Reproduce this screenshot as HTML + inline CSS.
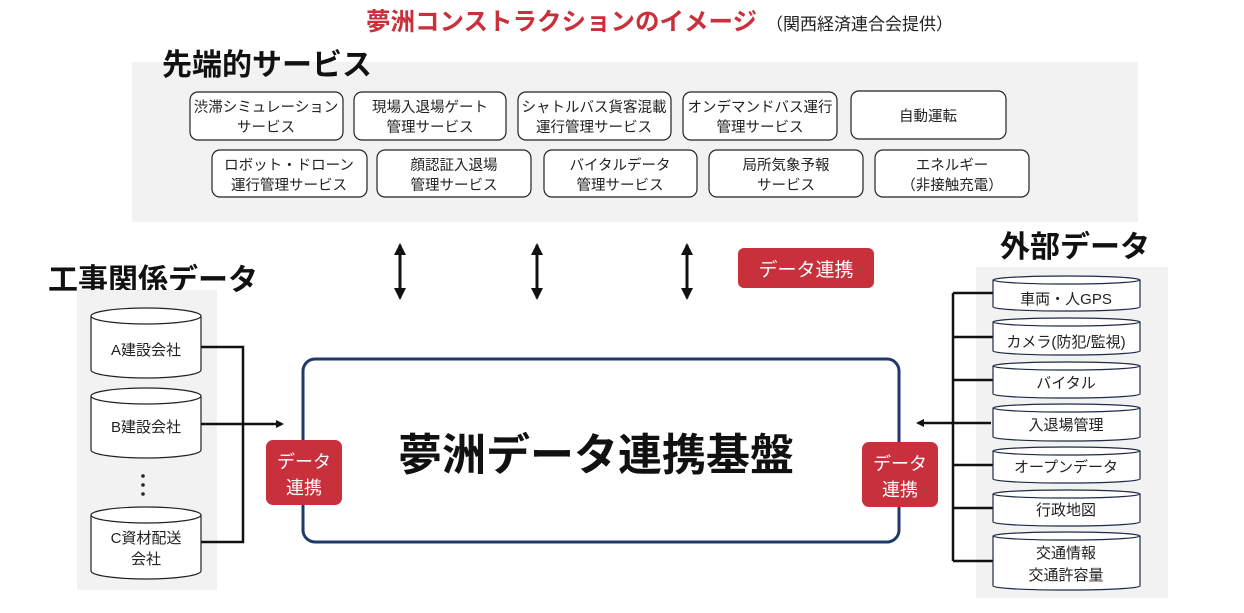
<!DOCTYPE html>
<html><head><meta charset="utf-8"><style>
html,body{margin:0;padding:0;background:#fff;}
svg{display:block;font-family:"Liberation Sans","Noto Sans CJK JP",sans-serif;}
</style></head><body>
<svg width="1244" height="613" viewBox="0 0 1244 613" xmlns="http://www.w3.org/2000/svg">
<defs>
<marker id="ah" markerWidth="8" markerHeight="8" refX="6" refY="4" orient="auto" markerUnits="userSpaceOnUse"><path d="M0,0 L8,4 L0,8 Z" fill="#111"/></marker>
<marker id="ah2" markerWidth="12" markerHeight="12" refX="10" refY="6" orient="auto-start-reverse" markerUnits="userSpaceOnUse"><path d="M0,0 L12,6 L0,12 Z" fill="#111"/></marker>
</defs>
<text x="366" y="30" font-size="24.5" font-weight="bold" fill="#c8303c">夢洲コンストラクションのイメージ</text>
<text x="766" y="30" font-size="17" fill="#222">（関西経済連合会提供）</text>

<rect x="132" y="62" width="1006" height="160" fill="#f2f2f2"/>
<text x="162" y="75" font-size="30" font-weight="bold" fill="#111">先端的サービス</text>
<g fill="#fff" stroke="#222" stroke-width="1.2">
<rect x="190" y="92" width="153" height="48" rx="8"/>
<rect x="354" y="92" width="152" height="48" rx="8"/>
<rect x="518" y="92" width="153" height="48" rx="8"/>
<rect x="683" y="92" width="154" height="48" rx="8"/>
<rect x="851" y="91" width="155" height="48" rx="8"/>
<rect x="212" y="150" width="155" height="47" rx="8"/>
<rect x="377" y="150" width="154" height="47" rx="8"/>
<rect x="544" y="150" width="153" height="47" rx="8"/>
<rect x="709" y="150" width="154" height="47" rx="8"/>
<rect x="875" y="150" width="154" height="47" rx="8"/>
</g>
<g font-size="14.5" fill="#222" text-anchor="middle">
<text x="266" y="112">渋滞シミュレーション</text><text x="266" y="132">サービス</text>
<text x="430" y="112">現場入退場ゲート</text><text x="430" y="132">管理サービス</text>
<text x="594" y="112">シャトルバス貨客混載</text><text x="594" y="132">運行管理サービス</text>
<text x="760" y="112">オンデマンドバス運行</text><text x="760" y="132">管理サービス</text>
<text x="928" y="121">自動運転</text>
<text x="289" y="170">ロボット・ドローン</text><text x="289" y="190">運行管理サービス</text>
<text x="454" y="170">顔認証入退場</text><text x="454" y="190">管理サービス</text>
<text x="620" y="170">バイタルデータ</text><text x="620" y="190">管理サービス</text>
<text x="786" y="170">局所気象予報</text><text x="786" y="190">サービス</text>
<text x="952" y="170">エネルギー</text><text x="952" y="190">（非接触充電）</text>
</g>

<g stroke="#111" stroke-width="3">
<line x1="400" y1="245" x2="400" y2="298" marker-start="url(#ah2)" marker-end="url(#ah2)"/>
<line x1="537" y1="245" x2="537" y2="298" marker-start="url(#ah2)" marker-end="url(#ah2)"/>
<line x1="687" y1="245" x2="687" y2="298" marker-start="url(#ah2)" marker-end="url(#ah2)"/>
</g>
<rect x="738" y="248" width="136" height="40" rx="6" fill="#c8303c"/>
<text x="806" y="276" font-size="19" fill="#fff" text-anchor="middle">データ連携</text>

<rect x="303" y="359" width="596" height="183" rx="12" fill="#fff" stroke="#1f3a68" stroke-width="3"/>
<text x="596" y="470" font-size="44" font-weight="bold" fill="#111" text-anchor="middle">夢洲データ連携基盤</text>

<text x="48" y="290" font-size="30" font-weight="bold" fill="#111">工事関係データ</text>
<rect x="77" y="290" width="140" height="300" fill="#f2f2f2"/>
<g fill="#fff" stroke="#222" stroke-width="1.2">
<path d="M91,316 v54 a55,8 0 0 0 110,0 v-54 a55,8 0 0 0 -110,0 a55,8 0 0 0 110,0"/>
<path d="M91,396 v54 a55,8 0 0 0 110,0 v-54 a55,8 0 0 0 -110,0 a55,8 0 0 0 110,0"/>
<path d="M91,515 v56 a55,8 0 0 0 110,0 v-56 a55,8 0 0 0 -110,0 a55,8 0 0 0 110,0"/>
</g>
<g font-size="15" fill="#222" text-anchor="middle">
<text x="146" y="355">A建設会社</text>
<text x="146" y="432">B建設会社</text>
<text x="146" y="543">C資材配送</text><text x="146" y="564">会社</text>
</g>
<g fill="#222"><circle cx="143" cy="476" r="1.8"/><circle cx="143" cy="485" r="1.8"/><circle cx="143" cy="494" r="1.8"/></g>
<g stroke="#111" stroke-width="2.5" fill="none">
<polyline points="201,347 243,347 243,542 201,542"/>
<line x1="201" y1="424" x2="282" y2="424" marker-end="url(#ah)"/>
</g>
<rect x="266" y="440" width="76" height="65" rx="7" fill="#c8303c"/>
<text x="304" y="468" font-size="18" fill="#fff" text-anchor="middle">データ</text>
<text x="304" y="494" font-size="18" fill="#fff" text-anchor="middle">連携</text>

<rect x="862" y="442" width="76" height="65" rx="7" fill="#c8303c"/>
<text x="900" y="470" font-size="18" fill="#fff" text-anchor="middle">データ</text>
<text x="900" y="496" font-size="18" fill="#fff" text-anchor="middle">連携</text>
<text x="1000" y="257" font-size="30" font-weight="bold" fill="#111">外部データ</text>
<rect x="976" y="267" width="192" height="331" fill="#f2f2f2"/>
<g stroke="#111" stroke-width="2.5" fill="none">
<line x1="953" y1="293" x2="953" y2="561"/>
<line x1="953" y1="293" x2="993" y2="293"/>
<line x1="953" y1="337" x2="993" y2="337"/>
<line x1="953" y1="380" x2="993" y2="380"/>
<line x1="953" y1="465" x2="993" y2="465"/>
<line x1="953" y1="508" x2="993" y2="508"/>
<line x1="953" y1="561" x2="993" y2="561"/>
<line x1="991" y1="423" x2="918" y2="423" marker-end="url(#ah)"/>
</g>
<g fill="#fff" stroke="#1f2a44" stroke-width="1.2">
<path d="M993,280 v27 a73,4 0 0 0 147,0 v-27 a73,4 0 0 0 -147,0 a73,4 0 0 0 147,0"/>
<path d="M993,322 v29 a73,4 0 0 0 147,0 v-29 a73,4 0 0 0 -147,0 a73,4 0 0 0 147,0"/>
<path d="M993,366 v28 a73,4 0 0 0 147,0 v-28 a73,4 0 0 0 -147,0 a73,4 0 0 0 147,0"/>
<path d="M993,408 v29 a73,4 0 0 0 147,0 v-29 a73,4 0 0 0 -147,0 a73,4 0 0 0 147,0"/>
<path d="M993,451 v28 a73,4 0 0 0 147,0 v-28 a73,4 0 0 0 -147,0 a73,4 0 0 0 147,0"/>
<path d="M993,494 v28 a73,4 0 0 0 147,0 v-28 a73,4 0 0 0 -147,0 a73,4 0 0 0 147,0"/>
<path d="M993,536 v50 a73,4 0 0 0 147,0 v-50 a73,4 0 0 0 -147,0 a73,4 0 0 0 147,0"/>
</g>
<g font-size="15" fill="#222" text-anchor="middle">
<text x="1066" y="304">車両・人GPS</text>
<text x="1066" y="347">カメラ(防犯/監視)</text>
<text x="1066" y="388">バイタル</text>
<text x="1066" y="430">入退場管理</text>
<text x="1066" y="472">オープンデータ</text>
<text x="1066" y="515">行政地図</text>
<text x="1066" y="558">交通情報</text>
<text x="1066" y="580">交通許容量</text>
</g>
</svg>
</body></html>
